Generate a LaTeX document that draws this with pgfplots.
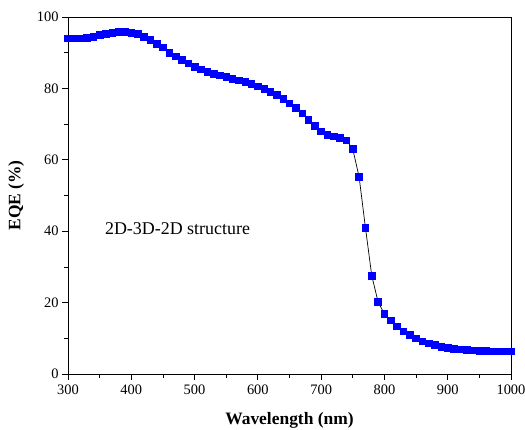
\documentclass[border=0pt]{standalone}
\usepackage{fontspec}
\setmainfont{Liberation Serif}
\usepackage{pgfplots}
\pgfplotsset{compat=1.18}
\definecolor{mblue}{RGB}{0,0,255}
\begin{document}
\begin{tikzpicture}
\begin{axis}[
  scale only axis,
  width=443bp, height=357bp,
  xmin=300, xmax=1000, ymin=0, ymax=100,
  xtick={300,400,...,1000}, ytick={0,20,...,100},
  minor xtick={350,450,...,950}, minor ytick={10,30,...,90},
  xtick pos=left, ytick pos=left,
  tick align=outside,
  major tick length=6bp, minor tick length=3.5bp,
  tick style={black, line width=0.8pt},
  axis line style={line width=0.9pt},
  /pgf/number format/assume math mode=true,
  /pgf/number format/1000 sep={},
  ticklabel style={font=\fontsize{14.5}{16}\selectfont},
  xticklabel style={yshift=-1bp},
  xlabel={\textbf{Wavelength (nm)}},
  ylabel={\textbf{EQE (\%)}},
  label style={font=\fontsize{17.5}{20}\selectfont},
  xlabel style={at={(axis description cs:0.5,-0.129)}, anchor=center},
  ylabel style={at={(axis description cs:-0.117,0.5)}, anchor=center},
  clip=false,
]
\addplot[black, line width=0.7pt, mark=square*, mark size=3.3bp,
  mark options={draw=mblue, fill=mblue}] coordinates {
(300,94.0)(310,94.0)(320,94.0)(330,94.2)(340,94.5)(350,95.0)(360,95.3)(370,95.6)
(380,95.8)(390,95.8)(400,95.6)(410,95.2)(420,94.5)(430,93.6)(440,92.5)(450,91.5)
(460,90.0)(470,89.0)(480,88.0)(490,87.0)(500,86.0)(510,85.3)(520,84.6)(530,84.0)
(540,83.6)(550,83.2)(560,82.7)(570,82.3)(580,81.8)(590,81.3)(600,80.6)(610,79.8)
(620,79.0)(630,78.2)(640,77.0)(650,75.8)(660,74.5)(670,73.0)(680,71.2)(690,69.5)
(700,68.0)(710,67.0)(720,66.6)(730,66.2)(740,65.5)(750,63.0)(760,55.2)(770,41.0)
(780,27.5)(790,20.2)(800,16.8)(810,15.0)(820,13.3)(830,12.0)(840,11.0)(850,10.0)
(860,9.2)(870,8.6)(880,8.1)(890,7.6)(900,7.3)(910,7.1)(920,6.9)(930,6.8)
(940,6.6)(950,6.5)(960,6.5)(970,6.4)(980,6.4)(990,6.4)(1000,6.3)
};
\node[anchor=west, font=\fontsize{18}{20}\selectfont] at (axis cs:353,40.6) {2D-3D-2D structure};
\end{axis}
\pgfresetboundingbox
\path ([shift={(-68bp,-56bp)}]current axis.south west) rectangle ([shift={(14bp,17bp)}]current axis.north east);
\end{tikzpicture}
\end{document}
